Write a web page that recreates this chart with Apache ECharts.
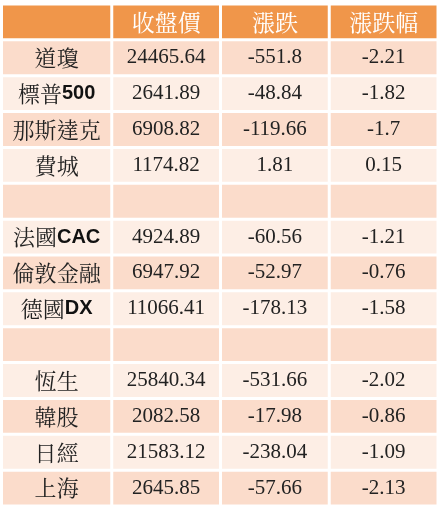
<!DOCTYPE html>
<html>
<head>
<meta charset="utf-8">
<script src="https://cdn.jsdelivr.net/npm/echarts@6/dist/echarts.min.js"></script>
<style>html,body{margin:0;padding:0;background:#fff}#main{width:443px;height:511px}</style>
</head>
<body>
<div id="main"></div>
<script>
// 表頭與資料
var headers = ['', '收盤價', '漲跌', '漲跌幅'];
var names = ['道瓊', '標普500', '那斯達克', '費城', '', '法國CAC', '倫敦金融', '德國DX', '', '恆生', '韓股', '日經', '上海'];
var closes = ['24465.64', '2641.89', '6908.82', '1174.82', '', '4924.89', '6947.92', '11066.41', '', '25840.34', '2082.58', '21583.12', '2645.85'];
var changes = ['-551.8', '-48.84', '-119.66', '1.81', '', '-60.56', '-52.97', '-178.13', '', '-531.66', '-17.98', '-238.04', '-57.66'];
var pcts = ['-2.21', '-1.82', '-1.7', '0.15', '', '-1.21', '-0.76', '-1.58', '', '-2.02', '-0.86', '-1.09', '-2.13'];

var rows = ['h'].concat(names.map(function (n, i) { return 'r' + i; }));

var cells = [];
headers.forEach(function (h, c) { cells.push([c, 0, h]); });
names.forEach(function (n, i) {
  cells.push([0, i + 1, n]);
  cells.push([1, i + 1, closes[i]]);
  cells.push([2, i + 1, changes[i]]);
  cells.push([3, i + 1, pcts[i]]);
});

// 名稱中的英數字用粗體無襯線
function richName(s) {
  return s.replace(/([A-Za-z0-9]+)/g, '{b|$1}');
}

var chart = echarts.init(document.getElementById('main'));
chart.setOption({
  animation: false,
  grid: { left: 3, right: 5, top: 4, bottom: 5 },
  xAxis: { type: 'value', min: 0, max: 4, show: false },
  yAxis: { type: 'category', data: rows, inverse: true, show: false },
  series: [{
    type: 'custom',
    data: cells,
    renderItem: function (params, api) {
      var c = api.value(0), r = api.value(1);
      var p0 = api.coord([c, r]);
      var p1 = api.coord([c + 1, r]);
      var bh = api.size([0, 1])[1];
      var x = p0[0] + (c === 0 ? 0 : 1.5), w = p1[0] - p0[0] - (c === 0 ? 1.5 : 3);
      var y = p0[1] - bh / 2 + 1.5, h = bh - 3;
      var fill = r === 0 ? '#f0964a' : (r % 2 === 1 ? '#fbdccb' : '#fdeee5');
      var text = cells[params.dataIndex][2];
      var isName = c === 0 && r > 0;
      return {
        type: 'group',
        children: [
          { type: 'rect', shape: { x: x, y: y, width: w, height: h }, style: { fill: fill } },
          {
            type: 'text',
            x: x + w / 2, y: y + h / 2,
            style: {
              text: isName ? richName(text) : text,
              align: 'center', verticalAlign: 'middle',
              fill: r === 0 ? '#ffffff' : '#222222',
              fontSize: r === 0 ? 23 : (isName ? 22 : 21),
              fontFamily: (r === 0 || isName) ? '"Noto Serif CJK TC","Noto Sans CJK TC",serif' : '"Liberation Serif",serif',
              rich: { b: { fontFamily: '"Liberation Sans",sans-serif', fontWeight: 'bold', fontSize: 20, fill: '#111' } }
            }
          }
        ]
      };
    }
  }]
});
</script>
</body>
</html>
